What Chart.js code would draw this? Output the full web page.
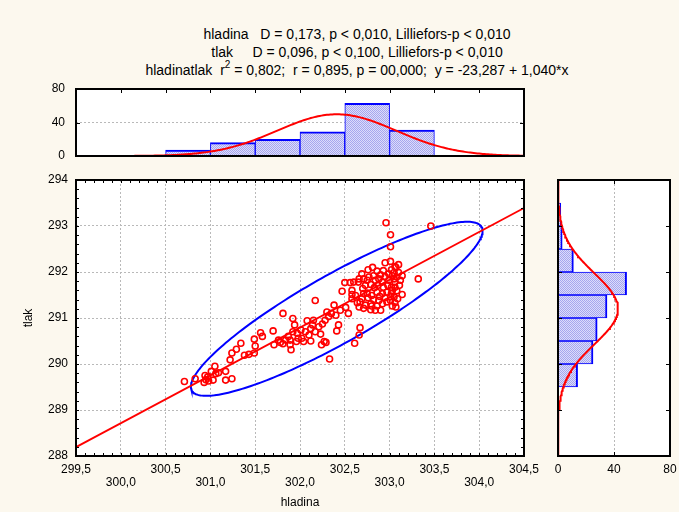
<!DOCTYPE html>
<html>
<head>
<meta charset="utf-8">
<script src="https://cdn.jsdelivr.net/npm/chart.js@4.4.1/dist/chart.umd.min.js"></script>
<style>
  html, body { margin: 0; padding: 0; background: #fcf8ee; }
  #page { position: relative; width: 679px; height: 512px; overflow: hidden; background: #fcf8ee;
          font-family: Arial, "Liberation Sans", sans-serif; color: #000; }
  .hdr { position: absolute; left: 57px; width: 600px; text-align: center; font-size: 14px;
         line-height: 16px; white-space: pre; }
  .hdr sup { font-size: 10px; line-height: 0; position: relative; top: -1px; }
  canvas { position: absolute; }
</style>
</head>
<body>
<div id="page">
  <div class="hdr" style="top:26px">hladina   D = 0,173, p &lt; 0,010, Lilliefors-p &lt; 0,010</div>
  <div class="hdr" style="top:44px">tlak     D = 0,096, p &lt; 0,100, Lilliefors-p &lt; 0,010</div>
  <div class="hdr" style="top:62px">hladinatlak  r<sup>2</sup> = 0,802;  r = 0,895, p = 00,000;  y = -23,287 + 1,040*x</div>
  <canvas id="topHist" width="540" height="90" style="left:0;top:80px"></canvas>
  <canvas id="scatter" width="540" height="342" style="left:0;top:170px"></canvas>
  <canvas id="sideHist" width="139" height="342" style="left:540px;top:170px"></canvas>
</div>
<script>
// hladina / tlak measurements
const hladina = [
  300.71, 300.83, 300.94, 300.95, 300.93, 300.98, 300.97, 301.01, 301.05, 301.06, 301.03, 301.09, 301.17, 301.17,
  301.24, 301.22, 301.24, 301.29, 301.34, 301.38, 301.43, 301.49, 301.50, 301.49, 301.56, 301.58, 301.70, 301.71,
  301.81, 301.78, 301.84, 301.89, 301.90, 301.92, 301.94, 301.98, 301.97, 301.87, 301.92, 301.96, 301.76, 301.89, 301.81,
  302.01, 302.02, 302.04, 302.08, 302.10, 302.12, 302.14, 302.15, 302.17, 302.23, 302.24, 302.27, 302.33, 302.30,
  302.32, 302.35, 302.38, 302.41, 302.43, 302.47, 302.06, 302.25, 302.29, 302.12, 302.17, 302.21, 302.28, 302.45, 302.40,
  302.51, 302.54, 302.50, 302.56, 302.61, 302.66, 302.67, 302.58, 302.81, 302.76, 302.86, 302.69, 302.66, 302.71,
  302.77, 302.82, 302.90, 302.95, 302.99, 302.60, 302.65, 302.84, 302.92, 302.58, 302.73, 302.79, 302.87, 302.93,
  302.98, 302.62, 302.69, 302.75, 302.80, 302.86, 302.92, 302.97, 302.58, 302.67, 302.73, 302.79, 302.82, 302.88,
  302.92, 302.97, 302.71, 302.79, 302.84, 302.90, 302.66, 302.96, 302.95, 302.70, 302.76, 302.83, 302.89, 302.95,
  302.80, 302.86, 302.75, 302.88, 302.64, 302.93, 302.99, 302.71,
  303.01, 303.01, 303.46, 303.01, 303.10, 303.32, 303.02, 303.03, 303.05, 303.06, 303.08, 303.02, 303.06, 303.14,
  303.02, 303.01, 303.06, 303.05, 303.10, 303.07, 303.12, 303.03, 303.08, 303.11, 303.05, 303.03, 303.07, 303.01,
  303.14, 303.09, 303.06
];
const tlak = [
  289.62, 289.68, 289.75, 289.66, 289.60, 289.63, 289.72, 289.84, 289.95, 289.79, 289.65, 289.81, 289.84, 289.65,
  289.68, 290.09, 290.24, 290.32, 290.45, 290.19, 290.21, 290.24, 290.39, 290.54, 290.68, 290.60, 290.72, 290.42,
  291.10, 290.47, 290.52, 290.52, 290.31, 290.99, 290.85, 290.56, 290.67, 290.60, 290.70, 290.49, 290.52, 290.42, 290.44,
  290.74, 290.56, 290.49, 290.94, 290.63, 290.50, 290.85, 290.95, 291.38, 290.65, 290.42, 290.49, 290.11, 291.13,
  291.03, 291.10, 291.28, 290.72, 290.85, 291.58, 290.70, 290.87, 290.47, 290.77, 290.70, 290.81, 290.95, 291.17, 291.06,
  291.23, 291.10, 291.77, 291.77, 290.45, 290.63, 290.79, 291.51, 292.10, 292.05, 292.02, 291.96, 291.85, 291.85,
  291.89, 291.92, 291.94, 291.90, 291.96, 291.78, 291.78, 291.82, 291.78, 291.60, 291.71, 291.73, 291.71, 291.67,
  291.71, 291.49, 291.42, 291.54, 291.49, 291.56, 291.53, 291.56, 291.42, 291.35, 291.28, 291.31, 291.40, 291.38,
  291.31, 291.35, 291.21, 291.18, 291.17, 291.17, 291.24, 293.07, 292.20, 291.64, 291.44, 291.66, 291.47, 291.44,
  291.26, 291.26, 291.82, 291.85, 291.33, 292.03, 291.82, 291.53,
  292.81, 292.55, 293.00, 292.23, 292.16, 291.85, 292.05, 291.92, 291.85, 291.78, 291.89, 291.67, 291.67, 291.51,
  291.53, 291.38, 291.33, 291.99, 291.99, 292.10, 291.82, 291.60, 291.59, 291.71, 291.46, 291.26, 291.24, 291.46,
  291.92, 291.42, 292.12
];

// histogram bins (centre of each 0,5 wide class) and frequencies
const hladinaBins = [300.75, 301.25, 301.75, 302.25, 302.75, 303.25];
const hladinaCounts = [7, 16, 20, 29, 63, 31];
const tlakBins = [289.75, 290.25, 290.75, 291.25, 291.75, 292.25, 292.75, 293.25];
const tlakCounts = [14, 25, 28, 35, 49, 11, 3, 2];

// axis ranges and tick steps
const xRange = [299.5, 304.5];
const yRange = [288, 294];
const countTicks = [0, 40, 80];

// fitted parameters: normal fits, correlation, regression y = a + b*x
const fitX = { mean: 302.41, sd: 0.665 };
const fitY = { mean: 291.2, sd: 0.773 };
const corr = 0.895;
const regA = -23.287, regB = 1.040;
const binWidth = 0.5;
const nObs = 166;

const RED = '#ff0000';
const BLUE = '#0000ff';
const GRID = '#b9b9b9';
const FONT = { family: 'Arial, "Liberation Sans", sans-serif', size: 12, lineHeight: 1.08 };

Chart.defaults.font.family = FONT.family;
Chart.defaults.font.size = 12;
Chart.defaults.color = '#000';

function comma(v, d) { return v.toFixed(d).replace('.', ','); }

function normalCurve(fit, from, to, swap) {
  const pts = [];
  const n = 250;
  for (let i = 0; i <= n; i++) {
    const v = from + (to - from) * i / n;
    const z = (v - fit.mean) / fit.sd;
    const f = nObs * binWidth * Math.exp(-z * z / 2) / (fit.sd * Math.sqrt(2 * Math.PI));
    pts.push(swap ? { x: f, y: v } : { x: v, y: f });
  }
  return pts;
}

// 95% confidence ellipse
function ellipse() {
  const k = Math.sqrt(5.991);
  const pts = [];
  for (let i = 0; i <= 240; i++) {
    const t = i / 240 * 2 * Math.PI;
    pts.push({
      x: fitX.mean + k * fitX.sd * Math.cos(t),
      y: fitY.mean + k * fitY.sd * (corr * Math.cos(t) + Math.sqrt(1 - corr * corr) * Math.sin(t))
    });
  }
  return pts;
}

// keep the plot areas where the layout padding puts them
function fixWidth(w) {
  return s => { s.width = w; s.paddingTop = 0; s.paddingBottom = 0; };
}
function fixHeight(h) {
  return s => { s.height = h; s.paddingLeft = 0; s.paddingRight = 0; };
}

// white plot area, black frame and short inward tick marks
const framePlugin = {
  id: 'frame',
  beforeDraw(chart) {
    const { ctx, chartArea: a } = chart;
    ctx.save();
    ctx.fillStyle = '#ffffff';
    ctx.fillRect(a.left, a.top, a.width, a.height);
    ctx.restore();
  },
  afterDraw(chart, args, opts) {
    const { ctx, chartArea: a } = chart;
    ctx.save();
    ctx.strokeStyle = '#000';
    ctx.lineWidth = 1;
    (opts.marks || []).forEach(m => {
      const scale = chart.scales[m.scale];
      const n = Math.round((m.to - m.from) / m.step);
      for (let i = 0; i <= n; i++) {
        const p = Math.round(scale.getPixelForValue(m.from + i * m.step)) + 0.5;
        ctx.beginPath();
        m.sides.forEach(s => {
          if (s === 'bottom') { ctx.moveTo(p, a.bottom); ctx.lineTo(p, a.bottom - m.len); }
          if (s === 'top') { ctx.moveTo(p, a.top); ctx.lineTo(p, a.top + m.len); }
          if (s === 'left') { ctx.moveTo(a.left, p); ctx.lineTo(a.left + m.len, p); }
          if (s === 'right') { ctx.moveTo(a.right, p); ctx.lineTo(a.right - m.len, p); }
        });
        ctx.stroke();
      }
    });
    ctx.lineWidth = 2;
    ctx.strokeRect(a.left, a.top, a.width, a.height);
    ctx.restore();
  }
};

function hatch(canvas) {
  const tile = document.createElement('canvas');
  tile.width = 2; tile.height = 2;
  const g = tile.getContext('2d');
  g.fillStyle = '#dcdcfb';
  g.fillRect(0, 0, 2, 2);
  g.fillStyle = '#a6a6ee';
  g.fillRect(0, 0, 1, 1);
  g.fillRect(1, 1, 1, 1);
  return canvas.getContext('2d').createPattern(tile, 'repeat');
}

const gridAt40 = ctx => (ctx.tick && ctx.tick.value === 40 ? GRID : 'rgba(0,0,0,0)');

// --- hladina histogram (top) ---
const topCanvas = document.getElementById('topHist');
new Chart(topCanvas, {
  type: 'bar',
  data: {
    datasets: [
      {
        type: 'line',
        data: normalCurve(fitX, xRange[0], xRange[1], false),
        borderColor: RED, borderWidth: 2, pointRadius: 0, tension: 0, order: 1
      },
      {
        type: 'bar',
        data: hladinaBins.map((b, i) => ({ x: b, y: hladinaCounts[i] })),
        backgroundColor: hatch(topCanvas),
        borderColor: BLUE,
        borderWidth: { top: 2, left: 1, right: 1, bottom: 0 },
        borderSkipped: false,
        barPercentage: 1, categoryPercentage: 1, order: 2
      }
    ]
  },
  options: {
    responsive: false, animation: false,
    layout: { padding: { top: 9, right: 16, bottom: 14, left: 0 } },
    plugins: {
      legend: { display: false }, tooltip: { enabled: false },
      frame: { marks: [
        { scale: 'x', from: xRange[0], to: xRange[1], step: 0.5, len: 4, sides: ['top'] },
        { scale: 'y', from: 0, to: 80, step: 40, len: 4, sides: ['left', 'right'] }
      ] }
    },
    scales: {
      x: {
        type: 'linear', min: xRange[0], max: xRange[1], offset: false, display: false,
        ticks: { stepSize: 0.5 }, grid: { offset: false }
      },
      y: {
        min: 0, max: 80,
        afterBuildTicks: s => { s.ticks = countTicks.map(v => ({ value: v })); },
        afterFit: fixWidth(76),
        ticks: { padding: 11, font: FONT },
        grid: { color: gridAt40, drawTicks: false },
        border: { display: false, dash: [2, 2] }
      }
    }
  },
  plugins: [framePlugin]
});

// --- scatter with regression line and ellipse ---
new Chart(document.getElementById('scatter'), {
  type: 'scatter',
  data: {
    datasets: [
      {
        data: hladina.map((h, i) => ({ x: h, y: tlak[i] })),
        borderColor: RED, backgroundColor: 'rgba(0,0,0,0)',
        pointRadius: 3, pointHoverRadius: 3, borderWidth: 1.6
      },
      {
        type: 'line',
        data: xRange.map(x => ({ x: x, y: regA + regB * x })),
        borderColor: RED, borderWidth: 1.8, pointRadius: 0
      },
      {
        type: 'line',
        data: ellipse(),
        borderColor: BLUE, borderWidth: 2, pointRadius: 0, tension: 0
      }
    ]
  },
  options: {
    responsive: false, animation: false,
    layout: { padding: { top: 10, right: 16, bottom: 0, left: 0 } },
    plugins: {
      legend: { display: false }, tooltip: { enabled: false },
      frame: { marks: [
        { scale: 'x', from: xRange[0], to: xRange[1], step: 0.1, len: 3, sides: ['bottom', 'top'] },
        { scale: 'y', from: yRange[0], to: yRange[1], step: 0.2, len: 3, sides: ['left', 'right'] }
      ] }
    },
    scales: {
      x: {
        type: 'linear', min: xRange[0], max: xRange[1],
        afterFit: fixHeight(56),
        ticks: {
          stepSize: 0.5, padding: 7.5, maxRotation: 0, autoSkip: false, font: FONT,
          callback: (v, i) => (i % 2 === 0 ? [comma(v, 1), ''] : ['', comma(v, 1)])
        },
        grid: { color: GRID, drawTicks: false },
        border: { display: false, dash: [2, 2] },
        title: { display: true, text: 'hladina', font: { size: 12, lineHeight: 1.2 }, padding: { top: 0, bottom: 1.8 } }
      },
      y: {
        type: 'linear', min: yRange[0], max: yRange[1],
        afterFit: fixWidth(76),
        ticks: { stepSize: 1, padding: 8, font: FONT, callback: v => comma(v, 0) },
        grid: { color: GRID, drawTicks: false },
        border: { display: false, dash: [2, 2] },
        title: { display: true, text: 'tlak', font: { size: 12, lineHeight: 1.2 }, padding: { top: 21.8, bottom: 0 } }
      }
    }
  },
  plugins: [framePlugin]
});

// --- tlak histogram (right, horizontal bars) ---
const sideCanvas = document.getElementById('sideHist');
new Chart(sideCanvas, {
  type: 'bar',
  data: {
    datasets: [
      {
        type: 'line',
        data: normalCurve(fitY, yRange[0], yRange[1], true),
        borderColor: RED, borderWidth: 2, pointRadius: 0, tension: 0, order: 1
      },
      {
        type: 'bar',
        data: tlakBins.map((b, i) => ({ x: tlakCounts[i], y: b })),
        backgroundColor: hatch(sideCanvas),
        borderColor: BLUE,
        borderWidth: { top: 1, bottom: 1, right: 2, left: 0 },
        borderSkipped: false,
        barPercentage: 1, categoryPercentage: 1, order: 2
      }
    ]
  },
  options: {
    indexAxis: 'y',
    responsive: false, animation: false,
    layout: { padding: { top: 10, right: 9, bottom: 0, left: 18 } },
    plugins: {
      legend: { display: false }, tooltip: { enabled: false },
      frame: { marks: [
        { scale: 'y', from: yRange[0], to: yRange[1], step: 1, len: 4, sides: ['right', 'left'] },
        { scale: 'x', from: 0, to: 80, step: 40, len: 4, sides: ['top', 'bottom'] }
      ] }
    },
    scales: {
      y: {
        type: 'linear', min: yRange[0], max: yRange[1], offset: false, display: false,
        ticks: { stepSize: 0.5 }, grid: { offset: false }
      },
      x: {
        type: 'linear', min: 0, max: 80,
        afterBuildTicks: s => { s.ticks = countTicks.map(v => ({ value: v })); },
        afterFit: fixHeight(56),
        ticks: { padding: 7.5, maxRotation: 0, autoSkip: false, font: FONT },
        grid: { color: gridAt40, drawTicks: false },
        border: { display: false, dash: [2, 2] }
      }
    }
  },
  plugins: [framePlugin]
});
</script>
</body>
</html>
